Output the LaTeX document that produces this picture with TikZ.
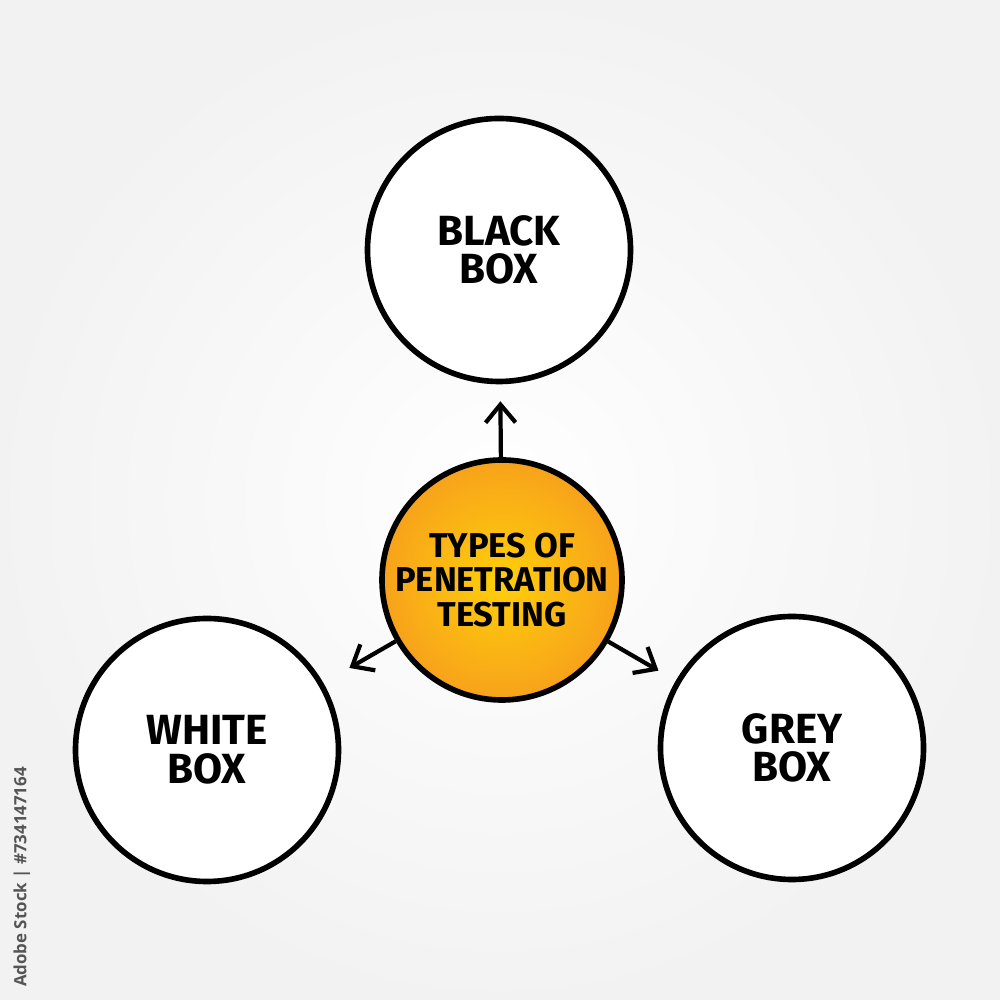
\documentclass[tikz,border=0pt]{standalone}
\usepackage{fontspec}
\setmainfont{Fira Sans}
\setsansfont{Open Sans}
\usetikzlibrary{arrows.meta}

\definecolor{coreyellow}{HTML}{FFCF0A}
\definecolor{coreorange}{HTML}{F7A21B}
\definecolor{stampgrey}{HTML}{555555}

\begin{document}
\begin{tikzpicture}[
    bubble/.style={circle, draw=black, line width=1.6pt, fill=white,
        minimum size=2.63cm, inner sep=0pt, align=center,
        font=\fontsize{12}{11}\selectfont\bfseries},
    core/.style={circle, draw=black, line width=1.6pt,
        inner color=coreyellow, outer color=coreorange,
        minimum size=2.4cm, inner sep=0pt, align=center,
        font=\fontsize{9.8}{9.7}\selectfont\bfseries},
    link/.style={line width=1.2pt, -{Straight Barb[length=1.8mm, width=3mm]}}
]
            % Draw the background
            \fill[inner color=white, outer color=gray!10] (0,0) rectangle (10,10);
            \useasboundingbox (0,0) rectangle (10,10);

            % Draw the four circles
            \node[core] (types) at (5.02, 4.20) {TYPES OF\\PENETRATION\\TESTING};
            \node[bubble] (black) at (4.99, 7.50) {BLACK\\BOX};
            \node[bubble] (white) at (2.07, 2.50) {WHITE\\BOX};
            \node[bubble] (grey) at (7.92, 2.52) {GREY\\BOX};

            % Draw the arrows
            \draw[link, shorten >=0.17cm] (types) -- (black);
            \draw[link, shorten >=0.3cm] (types) -- (white);
            \draw[link, shorten >=0.2cm] (types) -- (grey);

            % Stock number on the left edge
            \node[rotate=90, text=stampgrey, font=\sffamily\fontsize{4.8}{6}\selectfont\bfseries]
                (stamp) at (0.22, 1.23) {Adobe Stock | \#734147164};

        \end{tikzpicture}
\end{document}
